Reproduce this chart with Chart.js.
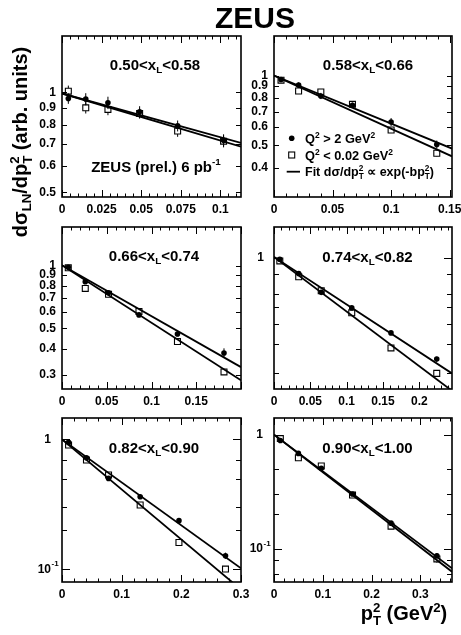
<!DOCTYPE html>
<html><head><meta charset="utf-8">
<script src="https://cdn.jsdelivr.net/npm/chart.js@4.4.1/dist/chart.umd.min.js"></script>
<style>
html,body{margin:0;padding:0;background:#fff;}
#wrap{position:relative;width:461px;height:635px;overflow:hidden;background:#fff;}
#wrap canvas{position:absolute;left:0;top:0;}
</style></head><body><div id="wrap"></div>
<script>
// ---------- DATA ----------
// panel 1 : 0.50 < xL < 0.58
const p1_pt2 = [0.004, 0.015, 0.029, 0.049, 0.073, 0.102];
const p1_dis = [0.959, 0.955, 0.931, 0.874, 0.793, 0.718];      // Q2 > 2 GeV2
const p1_php = [1.009, 0.899, 0.889, 0.864, 0.765, 0.713];      // Q2 < 0.02 GeV2
const p1_disErr = [0.035, 0.04, 0.04, 0.035, 0.03, 0.03];
const p1_phpErr = [0.04, 0.035, 0.035, 0.03, 0.03, 0.03];
const p1_fitDis = [0.993, 0.705];
const p1_fitPhp = [0.993, 0.686];
const p1_xTicks = [0, 0.025, 0.05, 0.075, 0.1];
const p1_xTickText = ['0', '0.025', '0.05', '0.075', '0.1'];
const p1_yTicks = [1, 0.9, 0.8, 0.7, 0.6, 0.5];
const p1_yTickText = ['1', '0.9', '0.8', '0.7', '0.6', '0.5'];

// panel 2 : 0.58 < xL < 0.66
const p2_pt2 = [0.006, 0.021, 0.040, 0.067, 0.100, 0.139];
const p2_dis = [0.961, 0.909, 0.817, 0.745, 0.631, 0.505];
const p2_php = [0.955, 0.858, 0.850, 0.752, 0.583, 0.463];
const p2_disErr = [0.02, 0.025, 0.025, 0.02, 0.025, 0.02];
const p2_phpErr = [0.015, 0.015, 0.02, 0.015, 0.015, 0.015];
const p2_fitDis = [1.0, 0.485];
const p2_fitPhp = [1.0, 0.449];
const p2_xTicks = [0, 0.05, 0.1, 0.15];
const p2_xTickText = ['0', '0.05', '0.1', '0.15'];
const p2_yTicks = [1, 0.9, 0.8, 0.7, 0.6, 0.5, 0.4];
const p2_yTickText = ['1', '0.9', '0.8', '0.7', '0.6', '0.5', '0.4'];

// panel 3 : 0.66 < xL < 0.74
const p3_pt2 = [0.007, 0.026, 0.052, 0.086, 0.129, 0.181];
const p3_dis = [0.982, 0.836, 0.741, 0.580, 0.470, 0.381];
const p3_php = [0.975, 0.777, 0.728, 0.602, 0.432, 0.309];
const p3_disErr = [0.012, 0.015, 0.015, 0.012, 0.012, 0.02];
const p3_phpErr = [0.01, 0.01, 0.01, 0.01, 0.01, 0.008];
const p3_fitDis = [1.004, 0.326];
const p3_fitPhp = [1.004, 0.282];
const p3_xTicks = [0, 0.05, 0.1, 0.15];
const p3_xTickText = ['0', '0.05', '0.1', '0.15'];
const p3_yTicks = [1, 0.9, 0.8, 0.7, 0.6, 0.5, 0.4, 0.3];
const p3_yTickText = ['1', '0.9', '0.8', '0.7', '0.6', '0.5', '0.4', '0.3'];

// panel 4 : 0.74 < xL < 0.82
const p4_pt2 = [0.008, 0.034, 0.065, 0.107, 0.161, 0.224];
const p4_dis = [0.977, 0.802, 0.617, 0.497, 0.351, 0.244];
const p4_php = [0.955, 0.766, 0.631, 0.464, 0.285, 0.200];
const p4_disErr = [0.012, 0.012, 0.012, 0.01, 0.008, 0.008];
const p4_phpErr = [0.01, 0.01, 0.01, 0.008, 0.006, 0.005];
const p4_fitDis = [1.01, 0.200];
const p4_fitPhp = [1.01, 0.157];
const p4_xTicks = [0, 0.05, 0.1, 0.15, 0.2];
const p4_xTickText = ['0', '0.05', '0.1', '0.15', '0.2'];
const p4_yTicks = [1];
const p4_yTickText = ['1'];

// panel 5 : 0.82 < xL < 0.90
const p5_pt2 = [0.011, 0.041, 0.078, 0.131, 0.196, 0.274];
const p5_dis = [0.948, 0.723, 0.501, 0.362, 0.237, 0.1275];
const p5_php = [0.905, 0.693, 0.532, 0.313, 0.161, 0.1006];
const p5_disErr = [0.012, 0.012, 0.01, 0.008, 0.006, 0.007];
const p5_phpErr = [0.01, 0.01, 0.008, 0.006, 0.004, 0.004];
const p5_fitDis = [1.0, 0.102];
const p5_fitPhp = [1.0, 0.070];
const p5_xTicks = [0, 0.1, 0.2, 0.3];
const p5_xTickText = ['0', '0.1', '0.2', '0.3'];
const p5_yTicks = [1, 0.1];
const p5_yTickText = ['1', '10'];

// panel 6 : 0.90 < xL < 1.00
const p6_pt2 = [0.013, 0.050, 0.097, 0.161, 0.240, 0.334];
const p6_dis = [0.887, 0.684, 0.506, 0.301, 0.167, 0.0863];
const p6_php = [0.923, 0.627, 0.530, 0.295, 0.157, 0.081];
const p6_disErr = [0.02, 0.012, 0.01, 0.006, 0.005, 0.005];
const p6_phpErr = [0.02, 0.01, 0.01, 0.006, 0.005, 0.006];
const p6_fitDis = [1.0, 0.0669];
const p6_fitPhp = [1.0, 0.0626];
const p6_xTicks = [0, 0.1, 0.2, 0.3];
const p6_xTickText = ['0', '0.1', '0.2', '0.3'];
const p6_yTicks = [1, 0.1];
const p6_yTickText = ['1', '10'];

// ---------- LAYOUT / STYLE ----------
const W = 461, H = 635, YW = 50, XH = 26;
const FONT = '"Liberation Sans", Arial, Helvetica, sans-serif';

const panels = [
  {box:{l:62,t:36,r:241,b:197}, xmax:0.113, ymin:0.484, ymax:1.48, x:p1_pt2, dis:p1_dis, php:p1_php, disErr:p1_disErr, phpErr:p1_phpErr, fitA:p1_fitDis, fitB:p1_fitPhp,
   xTicks:p1_xTicks, xText:p1_xTickText, yTicks:p1_yTicks, yText:p1_yTickText, yPad:6, xMajor:0.025, xMinor:0.005,
   yMarks:[1,0.9,0.8,0.7,0.6,0.5], decades:[], label:['0.50','0.58'], lab:{dx:93, dy:33.5}},
  {box:{l:274,t:36,r:452,b:197}, xmax:0.152, ymin:0.34, ymax:1.48, x:p2_pt2, dis:p2_dis, php:p2_php, disErr:p2_disErr, phpErr:p2_phpErr, fitA:p2_fitDis, fitB:p2_fitPhp,
   xTicks:p2_xTicks, xText:p2_xTickText, yTicks:p2_yTicks, yText:p2_yTickText, yPad:6, xMajor:0.05, xMinor:0.01,
   yMarks:[1,0.9,0.8,0.7,0.6,0.5,0.4], decades:[], label:['0.58','0.66'], lab:{dx:94, dy:33.5}, legend:true},
  {box:{l:62,t:227,r:241,b:389}, xmax:0.2, ymin:0.256, ymax:1.53, x:p3_pt2, dis:p3_dis, php:p3_php, disErr:p3_disErr, phpErr:p3_phpErr, fitA:p3_fitDis, fitB:p3_fitPhp,
   xTicks:p3_xTicks, xText:p3_xTickText, yTicks:p3_yTicks, yText:p3_yTickText, yPad:6, xMajor:0.05, xMinor:0.01,
   yMarks:[1,0.9,0.8,0.7,0.6,0.5,0.4,0.3], decades:[], label:['0.66','0.74'], lab:{dx:92, dy:33.7}},
  {box:{l:274,t:227,r:452,b:389}, xmax:0.245, ymin:0.161, ymax:1.53, x:p4_pt2, dis:p4_dis, php:p4_php, disErr:p4_disErr, phpErr:p4_phpErr, fitA:p4_fitDis, fitB:p4_fitPhp,
   xTicks:p4_xTicks, xText:p4_xTickText, yTicks:p4_yTicks, yText:p4_yTickText, yPad:10, xMajor:0.05, xMinor:0.01,
   yMarks:[1,0.8,0.6,0.5,0.4,0.3,0.2], decades:[1], label:['0.74','0.82'], lab:{dx:93.5, dy:35}},
  {box:{l:62,t:418,r:241,b:582}, xmax:0.3, ymin:0.08, ymax:1.46, x:p5_pt2, dis:p5_dis, php:p5_php, disErr:p5_disErr, phpErr:p5_phpErr, fitA:p5_fitDis, fitB:p5_fitPhp,
   xTicks:p5_xTicks, xText:p5_xTickText, yTicks:p5_yTicks, yText:p5_yTickText, yPad:11, xMajor:0.1, xMinor:0.02,
   yMarks:[1,0.7,0.5,0.3,0.2,0.1], decades:[1,0.1], label:['0.82','0.90'], lab:{dx:92, dy:35}, exp:true},
  {box:{l:274,t:418,r:452,b:582}, xmax:0.365, ymin:0.0508, ymax:1.40, x:p6_pt2, dis:p6_dis, php:p6_php, disErr:p6_disErr, phpErr:p6_phpErr, fitA:p6_fitDis, fitB:p6_fitPhp,
   xTicks:p6_xTicks, xText:p6_xTickText, yTicks:p6_yTicks, yText:p6_yTickText, yPad:11, xMajor:0.1, xMinor:0.02,
   yMarks:[1,0.5,0.3,0.2,0.1,0.08,0.06], decades:[1,0.1], label:['0.90','1.00'], lab:{dx:93.5, dy:35}, exp:true}
];

// rich text: segments [text, kind] kind: n | sup | sub | ss (text = [sup, sub])
function drawRich(ctx, segs, x, y, size, align) {
  const F = s => 'bold ' + s + 'px ' + FONT;
  const small = size * 0.66;
  const parts = []; let w = 0;
  for (const [t, k] of segs) {
    let pw;
    if (k === 'ss') { ctx.font = F(small); pw = Math.max(ctx.measureText(t[0]).width, ctx.measureText(t[1]).width); }
    else { ctx.font = F(k === 'n' ? size : small); pw = ctx.measureText(t).width; }
    parts.push({t, k, w: pw}); w += pw;
  }
  let cx = align === 'center' ? x - w / 2 : (align === 'right' ? x - w : x);
  ctx.textAlign = 'left'; ctx.textBaseline = 'alphabetic'; ctx.fillStyle = '#000';
  for (const p of parts) {
    if (p.k === 'n') { ctx.font = F(size); ctx.fillText(p.t, cx, y); }
    else if (p.k === 'sup') { ctx.font = F(small); ctx.fillText(p.t, cx, y - size * 0.42); }
    else if (p.k === 'sub') { ctx.font = F(small); ctx.fillText(p.t, cx, y + size * 0.22); }
    else { ctx.font = F(small); ctx.fillText(p.t[0], cx, y - size * 0.42); ctx.fillText(p.t[1], cx, y + size * 0.24); }
    cx += p.w;
  }
}

const wrap = document.getElementById('wrap');

const errBars = {
  id: 'errBars',
  afterDatasetsDraw(chart) {
    const ctx = chart.ctx, xs = chart.scales.x, ys = chart.scales.y;
    ctx.save(); ctx.strokeStyle = '#000'; ctx.lineWidth = 1;
    chart.data.datasets.forEach(ds => {
      if (!ds.errors) return;
      const gap = ds.gap || 0;
      ds.data.forEach((pt, i) => {
        const px = xs.getPixelForValue(pt.x), py = ys.getPixelForValue(pt.y);
        const top = ys.getPixelForValue(pt.y + ds.errors[i]);
        const bot = ys.getPixelForValue(Math.max(pt.y - ds.errors[i], 1e-6));
        ctx.beginPath();
        if (py - gap > top) { ctx.moveTo(px, top); ctx.lineTo(px, py - gap); }
        if (py + gap < bot) { ctx.moveTo(px, py + gap); ctx.lineTo(px, bot); }
        ctx.stroke();
      });
    });
    ctx.restore();
  }
};

function panelPlugin(P, idx) {
  return {
    id: 'panel' + idx,
    afterDraw(chart) {
      const ctx = chart.ctx, ca = chart.chartArea, xs = chart.scales.x, ys = chart.scales.y;
      ctx.save();
      ctx.strokeStyle = '#000'; ctx.lineWidth = 1;
      // x ticks inward, bottom and top
      const n = Math.round(P.xmax / P.xMinor + 1e-6);
      const ratio = Math.round(P.xMajor / P.xMinor);
      ctx.beginPath();
      for (let i = 0; i <= n; i++) {
        const v = i * P.xMinor; if (v > P.xmax + 1e-9) continue;
        const len = (i % ratio === 0) ? 7 : 3.5;
        const px = Math.round(xs.getPixelForValue(v)) + 0.5;
        ctx.moveTo(px, ca.bottom); ctx.lineTo(px, ca.bottom - len);
        ctx.moveTo(px, ca.top); ctx.lineTo(px, ca.top + len);
      }
      // y ticks inward, left and right
      P.yMarks.forEach(v => {
        const len = P.decades.includes(v) ? 8 : 5;
        const py = Math.round(ys.getPixelForValue(v)) + 0.5;
        ctx.moveTo(ca.left, py); ctx.lineTo(ca.left + len, py);
        ctx.moveTo(ca.right, py); ctx.lineTo(ca.right - len, py);
      });
      ctx.stroke();
      // frame
      ctx.lineWidth = 1.6;
      ctx.strokeRect(ca.left, ca.top, ca.right - ca.left, ca.bottom - ca.top);
      // exponent on "10" label
      if (P.exp) {
        const py = ys.getPixelForValue(0.1);
        ctx.font = 'bold 8px ' + FONT; ctx.fillStyle = '#000'; ctx.textAlign = 'left'; ctx.textBaseline = 'alphabetic';
        ctx.fillText('-1', ca.left - P.yPad + 0.5, py - 3);
      }
      // panel label
      drawRich(ctx, [[P.label[0] + '<x', 'n'], ['L', 'sub'], ['<' + P.label[1], 'n']], ca.left + P.lab.dx, ca.top + P.lab.dy, 15, 'center');
      if (idx === 0) {
        drawRich(ctx, [['ZEUS (prel.) 6 pb', 'n'], ['-1', 'sup']], 156, 171.5, 15, 'center');
        // page texts
        ctx.font = 'bold 30px ' + FONT; ctx.textAlign = 'center'; ctx.textBaseline = 'alphabetic';
        ctx.fillText('ZEUS', 255, 28);
        ctx.save(); ctx.translate(27, 142); ctx.rotate(-Math.PI / 2);
        drawRich(ctx, [['d\u03C3', 'n'], ['LN', 'sub'], ['/dp', 'n'], [['2', 'T'], 'ss'], [' (arb. units)', 'n']], 0, 0, 20, 'center');
        ctx.restore();
        drawRich(ctx, [['p', 'n'], [['2', 'T'], 'ss'], [' (GeV', 'n'], ['2', 'sup'], [')', 'n']], 404, 620, 20, 'center');
      }
      if (P.legend) {
        const lx = ca.left + 17.7;
        ctx.fillStyle = '#000';
        ctx.beginPath(); ctx.arc(lx, 138.3, 2.8, 0, Math.PI * 2); ctx.fill();
        ctx.lineWidth = 1.1; ctx.strokeRect(lx - 3, 152, 6, 6);
        ctx.lineWidth = 1.8; ctx.beginPath(); ctx.moveTo(lx - 5, 171.7); ctx.lineTo(lx + 8.3, 171.7); ctx.stroke();
        drawRich(ctx, [['Q', 'n'], ['2', 'sup'], [' > 2 GeV', 'n'], ['2', 'sup']], ca.left + 31, 143, 12.8, 'left');
        drawRich(ctx, [['Q', 'n'], ['2', 'sup'], [' < 0.02 GeV', 'n'], ['2', 'sup']], ca.left + 31, 160, 12.8, 'left');
        drawRich(ctx, [['Fit d\u03C3/dp', 'n'], [['2', 'T'], 'ss'], [' \u221D exp(-bp', 'n'], [['2', 'T'], 'ss'], [')', 'n']], ca.left + 31, 176, 12.5, 'left');
      }
      ctx.restore();
    }
  };
}

panels.forEach((P, idx) => {
  const cv = document.createElement('canvas');
  cv.width = W; cv.height = H; cv.style.width = W + 'px'; cv.style.height = H + 'px';
  wrap.appendChild(cv);
  const pts = ys => P.x.map((x, i) => ({x: x, y: ys[i]}));
  const fit = ys => [{x: 0, y: ys[0]}, {x: P.xmax, y: ys[1]}];
  const tickFont = {family: FONT, size: 12, weight: 'bold'};
  new Chart(cv, {
    type: 'scatter',
    data: {datasets: [
      {label: 'Fit (Q2>2)', data: fit(P.fitA), showLine: true, borderColor: '#000', borderWidth: 1.8, pointRadius: 0, order: 3},
      {label: 'Fit (Q2<0.02)', data: fit(P.fitB), showLine: true, borderColor: '#000', borderWidth: 1.8, pointRadius: 0, order: 3},
      {label: 'Q2 < 0.02 GeV2', data: pts(P.php), errors: P.phpErr, gap: 3, pointStyle: 'rect', pointRadius: 4.2,
       backgroundColor: 'rgba(255,255,255,0)', borderColor: '#000', borderWidth: 1.1, order: 2},
      {label: 'Q2 > 2 GeV2', data: pts(P.dis), errors: P.disErr, gap: 0, pointStyle: 'circle', pointRadius: 2.8,
       backgroundColor: '#000', borderColor: '#000', borderWidth: 0, order: 1}
    ]},
    options: {
      responsive: false, animation: false, events: [],
      layout: {padding: {left: P.box.l - YW, top: P.box.t, right: W - P.box.r, bottom: H - P.box.b - XH}},
      plugins: {legend: {display: false}, tooltip: {enabled: false}},
      scales: {
        x: {type: 'linear', position: 'bottom', min: 0, max: P.xmax,
            grid: {display: false, drawTicks: false, tickLength: 0}, border: {display: false},
            ticks: {autoSkip: false, maxRotation: 0, minRotation: 0, padding: 5.5, color: '#000', font: tickFont,
                    callback: (v, i) => P.xText[i]},
            afterBuildTicks: s => { s.ticks = P.xTicks.map(v => ({value: v})); },
            afterFit: s => { s.height = XH; s.paddingLeft = 0; s.paddingRight = 0; }},
        y: {type: 'logarithmic', position: 'left', min: P.ymin, max: P.ymax,
            grid: {display: false, drawTicks: false, tickLength: 0}, border: {display: false},
            ticks: {autoSkip: false, padding: P.yPad, color: '#000', font: tickFont,
                    callback: (v, i) => P.yText[i]},
            afterBuildTicks: s => { s.ticks = P.yTicks.map(v => ({value: v})); },
            afterFit: s => { s.width = YW; s.paddingTop = 0; s.paddingBottom = 0; }}
      }
    },
    plugins: [errBars, panelPlugin(P, idx)]
  });
});
</script></body></html>
